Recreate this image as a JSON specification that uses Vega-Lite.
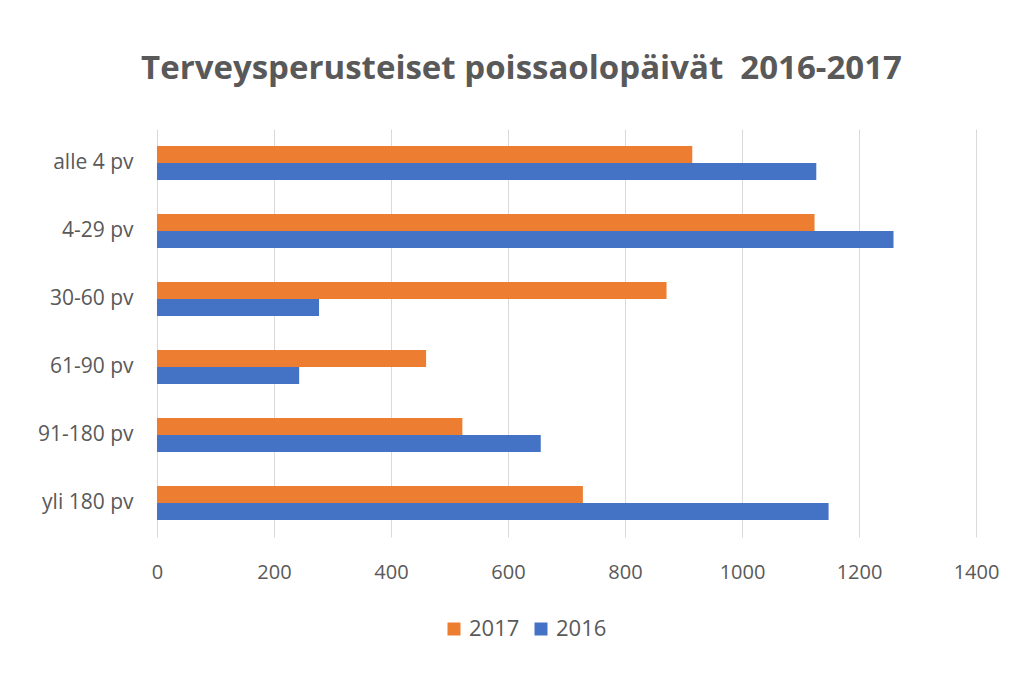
{
  "$schema": "https://vega.github.io/schema/vega-lite/v6.json",
  "width": 819,
  "height": 408,
  "autosize": {"type": "none"},
  "padding": {"left": 157, "top": 129, "right": 49, "bottom": 145},
  "background": "white",
  "title": {
    "text": "Terveysperusteiset poissaolopäivät\u00a0 2016-2017",
    "anchor": "middle",
    "frame": "group",
    "dx": -45,
    "offset": 43,
    "fontSize": 33,
    "font": "Open Sans",
    "fontWeight": "bold",
    "color": "#595959"
  },
  "data": {
    "values": [
      {"luokka": "alle 4 pv", "vuosi": "2017", "arvo": 915},
      {"luokka": "alle 4 pv", "vuosi": "2016", "arvo": 1127},
      {"luokka": "4-29 pv", "vuosi": "2017", "arvo": 1124},
      {"luokka": "4-29 pv", "vuosi": "2016", "arvo": 1259},
      {"luokka": "30-60 pv", "vuosi": "2017", "arvo": 871},
      {"luokka": "30-60 pv", "vuosi": "2016", "arvo": 277},
      {"luokka": "61-90 pv", "vuosi": "2017", "arvo": 460},
      {"luokka": "61-90 pv", "vuosi": "2016", "arvo": 243},
      {"luokka": "91-180 pv", "vuosi": "2017", "arvo": 522},
      {"luokka": "91-180 pv", "vuosi": "2016", "arvo": 656},
      {"luokka": "yli 180 pv", "vuosi": "2017", "arvo": 728},
      {"luokka": "yli 180 pv", "vuosi": "2016", "arvo": 1148}
    ]
  },
  "mark": {"type": "bar"},
  "encoding": {
    "y": {
      "field": "luokka",
      "type": "nominal",
      "sort": ["alle 4 pv", "4-29 pv", "30-60 pv", "61-90 pv", "91-180 pv", "yli 180 pv"],
      "scale": {"paddingInner": 0.5, "paddingOuter": 0.25},
      "axis": {
        "title": null,
        "ticks": false,
        "domain": false,
        "grid": false,
        "labelFontSize": 21,
        "labelColor": "#595959",
        "labelPadding": 24
      }
    },
    "yOffset": {"field": "vuosi", "type": "nominal", "sort": ["2017", "2016"]},
    "x": {
      "field": "arvo",
      "type": "quantitative",
      "scale": {"domain": [0, 1400]},
      "axis": {
        "title": null,
        "values": [0, 200, 400, 600, 800, 1000, 1200, 1400],
        "format": "d",
        "ticks": false,
        "domain": false,
        "grid": true,
        "gridColor": "#d9d9d9",
        "gridWidth": 1,
        "labelFlush": false,
        "labelFontSize": 20,
        "labelColor": "#595959",
        "labelPadding": 25
      }
    },
    "color": {
      "field": "vuosi",
      "type": "nominal",
      "scale": {"domain": ["2017", "2016"], "range": ["#ED7D31", "#4472C4"]},
      "legend": {
        "title": null,
        "orient": "none",
        "legendX": 286,
        "legendY": 489,
        "direction": "horizontal",
        "symbolType": "square",
        "symbolSize": 169,
        "symbolStrokeWidth": 0,
        "labelFontSize": 22,
        "labelColor": "#595959",
        "labelOffset": 4,
        "columnPadding": 10
      }
    }
  },
  "config": {"view": {"stroke": null}, "font": "Open Sans"}
}
